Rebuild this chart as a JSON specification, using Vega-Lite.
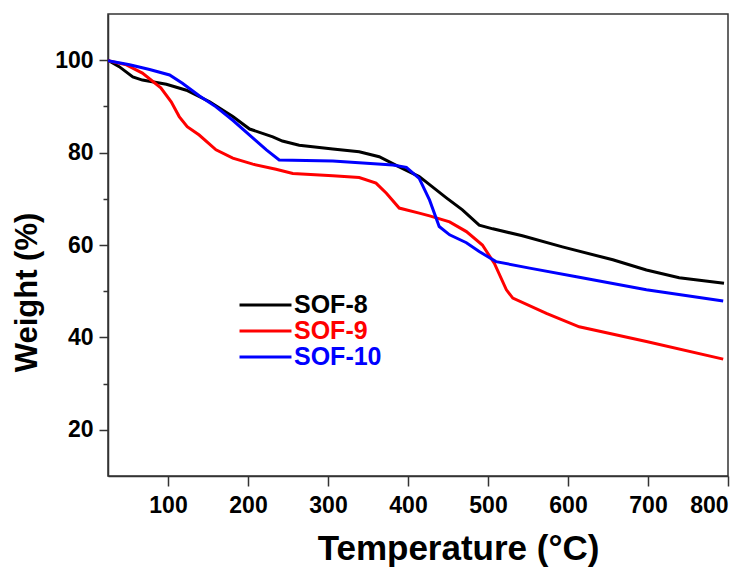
{
  "$schema": "https://vega.github.io/schema/vega-lite/v6.json",
  "autosize": {"type": "none"},
  "width": 620,
  "height": 462,
  "padding": {"left": 108, "top": 14, "right": 25, "bottom": 93},
  "background": "white",
  "config": {
    "font": "Liberation Sans",
    "view": {"stroke": "#333333", "strokeWidth": 1.5},
    "axis": {"grid": false, "domainColor": "#333333", "domainWidth": 1.5, "tickColor": "#333333", "tickWidth": 1.5, "labelFont": "Liberation Sans", "labelFontWeight": "bold", "labelColor": "black", "titleFont": "Liberation Sans", "titleFontWeight": "bold", "titleColor": "black"}
  },
  "layer": [
    {
      "data": {"values": [
        {"t": 25, "w": 100, "s": "SOF-8"}, {"t": 39, "w": 98.6, "s": "SOF-8"}, {"t": 56, "w": 96.4, "s": "SOF-8"}, {"t": 68, "w": 95.7, "s": "SOF-8"}, {"t": 98, "w": 94.8, "s": "SOF-8"}, {"t": 123, "w": 93.5, "s": "SOF-8"}, {"t": 152, "w": 91, "s": "SOF-8"}, {"t": 181, "w": 87.8, "s": "SOF-8"}, {"t": 202, "w": 85.1, "s": "SOF-8"}, {"t": 231, "w": 83.4, "s": "SOF-8"}, {"t": 243, "w": 82.5, "s": "SOF-8"}, {"t": 264, "w": 81.6, "s": "SOF-8"}, {"t": 306, "w": 80.8, "s": "SOF-8"}, {"t": 339, "w": 80.2, "s": "SOF-8"}, {"t": 364, "w": 79.1, "s": "SOF-8"}, {"t": 389, "w": 76.9, "s": "SOF-8"}, {"t": 414, "w": 74.8, "s": "SOF-8"}, {"t": 423, "w": 73.6, "s": "SOF-8"}, {"t": 448, "w": 70.2, "s": "SOF-8"}, {"t": 468, "w": 67.6, "s": "SOF-8"}, {"t": 489, "w": 64.3, "s": "SOF-8"}, {"t": 506, "w": 63.5, "s": "SOF-8"}, {"t": 543, "w": 62, "s": "SOF-8"}, {"t": 593, "w": 59.6, "s": "SOF-8"}, {"t": 656, "w": 56.8, "s": "SOF-8"}, {"t": 698, "w": 54.6, "s": "SOF-8"}, {"t": 739, "w": 52.9, "s": "SOF-8"}, {"t": 795, "w": 51.7, "s": "SOF-8"},
        {"t": 25, "w": 99.9, "s": "SOF-9"}, {"t": 48, "w": 99, "s": "SOF-9"}, {"t": 68, "w": 97.2, "s": "SOF-9"}, {"t": 91, "w": 94, "s": "SOF-9"}, {"t": 104, "w": 91, "s": "SOF-9"}, {"t": 114, "w": 87.8, "s": "SOF-9"}, {"t": 124, "w": 85.6, "s": "SOF-9"}, {"t": 139, "w": 83.8, "s": "SOF-9"}, {"t": 160, "w": 80.6, "s": "SOF-9"}, {"t": 181, "w": 78.8, "s": "SOF-9"}, {"t": 206, "w": 77.5, "s": "SOF-9"}, {"t": 235, "w": 76.4, "s": "SOF-9"}, {"t": 256, "w": 75.5, "s": "SOF-9"}, {"t": 306, "w": 75, "s": "SOF-9"}, {"t": 339, "w": 74.6, "s": "SOF-9"}, {"t": 360, "w": 73.4, "s": "SOF-9"}, {"t": 373, "w": 71.2, "s": "SOF-9"}, {"t": 389, "w": 68, "s": "SOF-9"}, {"t": 414, "w": 66.9, "s": "SOF-9"}, {"t": 427, "w": 66.3, "s": "SOF-9"}, {"t": 452, "w": 65, "s": "SOF-9"}, {"t": 473, "w": 62.9, "s": "SOF-9"}, {"t": 493, "w": 60, "s": "SOF-9"}, {"t": 508, "w": 56, "s": "SOF-9"}, {"t": 523, "w": 50.3, "s": "SOF-9"}, {"t": 531, "w": 48.5, "s": "SOF-9"}, {"t": 573, "w": 45.2, "s": "SOF-9"}, {"t": 614, "w": 42.3, "s": "SOF-9"}, {"t": 698, "w": 39.1, "s": "SOF-9"}, {"t": 794, "w": 35.3, "s": "SOF-9"},
        {"t": 25, "w": 99.9, "s": "SOF-10"}, {"t": 52, "w": 99, "s": "SOF-10"}, {"t": 77, "w": 98, "s": "SOF-10"}, {"t": 102, "w": 96.8, "s": "SOF-10"}, {"t": 118, "w": 95, "s": "SOF-10"}, {"t": 139, "w": 92.3, "s": "SOF-10"}, {"t": 160, "w": 89.9, "s": "SOF-10"}, {"t": 181, "w": 87, "s": "SOF-10"}, {"t": 202, "w": 83.8, "s": "SOF-10"}, {"t": 223, "w": 80.6, "s": "SOF-10"}, {"t": 239, "w": 78.4, "s": "SOF-10"}, {"t": 306, "w": 78.2, "s": "SOF-10"}, {"t": 381, "w": 77.3, "s": "SOF-10"}, {"t": 398, "w": 76.8, "s": "SOF-10"}, {"t": 414, "w": 74.4, "s": "SOF-10"}, {"t": 427, "w": 69.7, "s": "SOF-10"}, {"t": 439, "w": 64, "s": "SOF-10"}, {"t": 452, "w": 62.2, "s": "SOF-10"}, {"t": 473, "w": 60.5, "s": "SOF-10"}, {"t": 489, "w": 58.6, "s": "SOF-10"}, {"t": 510, "w": 56.4, "s": "SOF-10"}, {"t": 552, "w": 55, "s": "SOF-10"}, {"t": 614, "w": 53, "s": "SOF-10"}, {"t": 698, "w": 50.3, "s": "SOF-10"}, {"t": 794, "w": 47.9, "s": "SOF-10"}
      ]},
      "mark": {"type": "line", "strokeWidth": 3, "clip": true},
      "encoding": {
        "x": {"field": "t", "type": "quantitative", "scale": {"domain": [25, 800], "nice": false, "zero": false},
          "axis": {"values": [100, 200, 300, 400, 500, 600, 700, 800], "tickSize": 10, "labelFontSize": 23, "labelPadding": 8, "title": "Temperature (°C)", "titleFontSize": 35, "titleX": 350, "titleY": 83, "titleAlign": "center", "titleBaseline": "alphabetic"}},
        "y": {"field": "w", "type": "quantitative", "scale": {"domain": [10, 110], "nice": false, "zero": false},
          "axis": {"orient": "left", "values": [20, 40, 60, 80, 100], "tickSize": 9, "labelFontSize": 23, "labelPadding": 6, "title": "Weight (%)", "titleFontSize": 31, "titleX": -81, "titleY": 278, "titleAlign": "center", "titleBaseline": "middle", "titleAngle": -90}},
        "color": {"field": "s", "type": "nominal",
          "scale": {"domain": ["SOF-8", "SOF-9", "SOF-10"], "range": ["#000000", "#ff0000", "#0000ff"]},
          "legend": {"title": null, "orient": "none", "legendX": 130, "legendY": 278, "padding": 0, "symbolType": "stroke", "symbolSize": 2700, "symbolStrokeWidth": 3, "labelFontSize": 25, "labelFontWeight": "bold", "labelFont": "Liberation Sans", "labelOffset": 1, "rowPadding": 0, "clipHeight": 26,
            "encode": {"labels": {"update": {"fill": {"scale": "color", "field": "value"}}}}}
        }
      }
    },
    {
      "data": {"values": [{"m": 30}, {"m": 50}, {"m": 70}, {"m": 90}]},
      "mark": {"type": "rule", "strokeOpacity": 0},
      "encoding": {
        "y": {"field": "m", "type": "quantitative", "axis": {"orient": "left", "values": [30, 50, 70, 90], "tickSize": 5, "labels": false, "domain": false, "title": null}}
      }
    }
  ],
  "resolve": {"axis": {"y": "independent"}}
}
